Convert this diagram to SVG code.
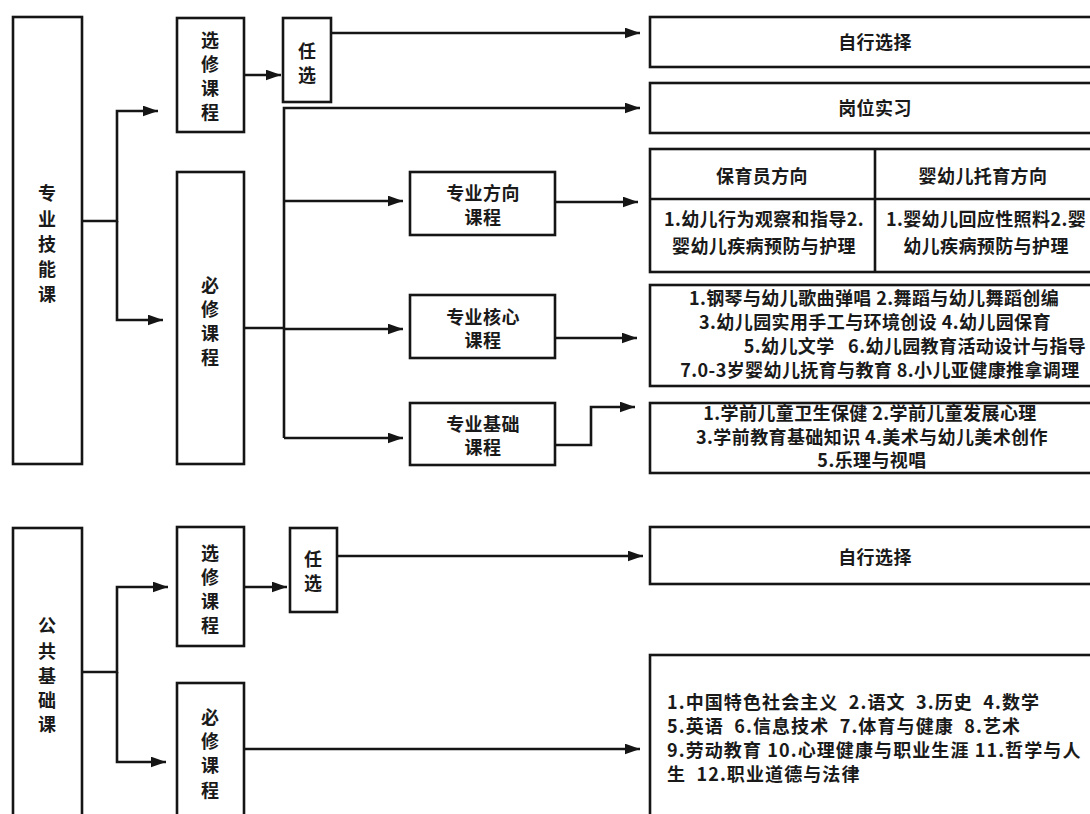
<svg xmlns="http://www.w3.org/2000/svg" width="1090" height="814" viewBox="0 0 1090 814">
<defs>
<marker id="arr" viewBox="0 0 14 10" refX="14" refY="5" markerWidth="15" markerHeight="11" markerUnits="userSpaceOnUse" orient="auto"><path d="M0,0 L14,5 L0,10 z" fill="#151515"/></marker>
<style>
.box{fill:#fff;stroke:#151515;stroke-width:2.6}
.ln{fill:none;stroke:#151515;stroke-width:2.6}
text{font-family:"Noto Sans CJK SC","Noto Sans",sans-serif;font-weight:700;fill:#1a1a1a}
.v{font-size:18px;text-anchor:middle}
.m{font-size:18px;letter-spacing:0.4px;text-anchor:middle}
.b{font-size:18px;letter-spacing:1.1px;white-space:pre}
</style>
</defs>
<rect width="1090" height="814" fill="#fff"/>

<g id="connectors">
<path class="ln" d="M82,221 H117 V111 H158" marker-end="url(#arr)"/>
<path class="ln" d="M117,221 V320 H163" marker-end="url(#arr)"/>
<path class="ln" d="M244,75 H281" marker-end="url(#arr)"/>
<path class="ln" d="M331,33 H640" marker-end="url(#arr)"/>
<path class="ln" d="M284,438 V108 H640" marker-end="url(#arr)"/>
<path class="ln" d="M284,201 H403" marker-end="url(#arr)"/>
<path class="ln" d="M244,328 H284"/>
<path class="ln" d="M284,329 H403" marker-end="url(#arr)"/>
<path class="ln" d="M284,438 H403" marker-end="url(#arr)"/>
<path class="ln" d="M555,202 H638" marker-end="url(#arr)"/>
<path class="ln" d="M555,338 H637" marker-end="url(#arr)"/>
<path class="ln" d="M555,445 H591 V407 H635" marker-end="url(#arr)"/>
<path class="ln" d="M82,672 H117 V587 H168" marker-end="url(#arr)"/>
<path class="ln" d="M117,672 V762 H166" marker-end="url(#arr)"/>
<path class="ln" d="M244,587 H287" marker-end="url(#arr)"/>
<path class="ln" d="M337,556 H643" marker-end="url(#arr)"/>
<path class="ln" d="M244,749 H640" marker-end="url(#arr)"/>
</g>

<g id="zyjnk">
<rect class="box" x="13" y="17" width="69" height="447"/>
<text class="v" x="47" y="200">专</text>
<text class="v" x="47" y="226">业</text>
<text class="v" x="47" y="251">技</text>
<text class="v" x="47" y="276">能</text>
<text class="v" x="47" y="301">课</text>
</g>

<g id="xxkc1">
<rect class="box" x="177" y="18" width="67" height="114"/>
<text class="v" x="210" y="47">选</text>
<text class="v" x="210" y="71">修</text>
<text class="v" x="210" y="95">课</text>
<text class="v" x="210" y="119">程</text>
</g>

<g id="rx1">
<rect class="box" x="283" y="18" width="48" height="84"/>
<text class="v" x="307" y="58">任</text>
<text class="v" x="307" y="82">选</text>
</g>

<g id="bxkc1">
<rect class="box" x="177" y="172" width="67" height="292"/>
<text class="v" x="210" y="292">必</text>
<text class="v" x="210" y="316">修</text>
<text class="v" x="210" y="340">课</text>
<text class="v" x="210" y="364">程</text>
</g>

<g id="fxkc">
<rect class="box" x="410" y="172" width="145" height="63"/>
<text class="m" x="483" y="200">专业方向</text>
<text class="m" x="483" y="224">课程</text>
</g>

<g id="hxkc">
<rect class="box" x="410" y="295" width="145" height="63"/>
<text class="m" x="483" y="323.5">专业核心</text>
<text class="m" x="483" y="347">课程</text>
</g>

<g id="jckc">
<rect class="box" x="410" y="403" width="145" height="62"/>
<text class="m" x="483" y="430.5">专业基础</text>
<text class="m" x="483" y="454">课程</text>
</g>

<g id="zxxz1">
<rect class="box" x="650" y="17" width="446" height="50"/>
<text class="m" x="875" y="49">自行选择</text>
</g>

<g id="gwsx">
<rect class="box" x="650" y="83" width="446" height="50"/>
<text class="m" x="875" y="115">岗位实习</text>
</g>

<g id="fxtable">
<rect class="box" x="650" y="149" width="446" height="123"/>
<path class="ln" d="M875,149 V272 M650,199 H1096"/>
<text class="m" x="762" y="183">保育员方向</text>
<text class="m" x="983" y="183">婴幼儿托育方向</text>
<text class="m" x="764" y="226">1.幼儿行为观察和指导2.</text>
<text class="m" x="764" y="253">婴幼儿疾病预防与护理</text>
<text class="m" x="986" y="226">1.婴幼儿回应性照料2.婴</text>
<text class="m" x="986" y="253">幼儿疾病预防与护理</text>
</g>

<g id="hxbox">
<rect class="box" x="650" y="285" width="446" height="101"/>
<text class="m" x="874" y="305">1.钢琴与幼儿歌曲弹唱 2.舞蹈与幼儿舞蹈创编</text>
<text class="m" x="875" y="329">3.幼儿园实用手工与环境创设 4.幼儿园保育</text>
<text class="m" x="915" y="353" xml:space="preserve">5.幼儿文学   6.幼儿园教育活动设计与指导</text>
<text class="m" x="880" y="377">7.0-3岁婴幼儿抚育与教育 8.小儿亚健康推拿调理</text>
</g>

<g id="jcbox">
<rect class="box" x="650" y="403" width="446" height="70"/>
<text class="m" x="870" y="420">1.学前儿童卫生保健 2.学前儿童发展心理</text>
<text class="m" x="872" y="443.5">3.学前教育基础知识 4.美术与幼儿美术创作</text>
<text class="m" x="872" y="467">5.乐理与视唱</text>
</g>

<g id="ggjck">
<rect class="box" x="13" y="528" width="69" height="300"/>
<text class="v" x="47" y="632">公</text>
<text class="v" x="47" y="658">共</text>
<text class="v" x="47" y="683">基</text>
<text class="v" x="47" y="707">础</text>
<text class="v" x="47" y="731">课</text>
</g>

<g id="xxkc2">
<rect class="box" x="177" y="527" width="67" height="119"/>
<text class="v" x="210" y="560">选</text>
<text class="v" x="210" y="584">修</text>
<text class="v" x="210" y="608">课</text>
<text class="v" x="210" y="632">程</text>
</g>

<g id="rx2">
<rect class="box" x="290" y="528" width="47" height="84"/>
<text class="v" x="313" y="566">任</text>
<text class="v" x="313" y="590">选</text>
</g>

<g id="bxkc2">
<rect class="box" x="177" y="683" width="67" height="145"/>
<text class="v" x="210" y="724">必</text>
<text class="v" x="210" y="748">修</text>
<text class="v" x="210" y="772">课</text>
<text class="v" x="210" y="797">程</text>
</g>

<g id="zxxz2">
<rect class="box" x="650" y="527" width="446" height="57"/>
<text class="m" x="875" y="564">自行选择</text>
</g>

<g id="ggbx">
<rect class="box" x="650" y="655" width="446" height="175"/>
<text class="b" x="667" y="709" xml:space="preserve">1.中国特色社会主义  2.语文  3.历史  4.数学</text>
<text class="b" x="667" y="733" xml:space="preserve">5.英语  6.信息技术  7.体育与健康  8.艺术</text>
<text class="b" x="667" y="757" xml:space="preserve">9.劳动教育 10.心理健康与职业生涯 11.哲学与人</text>
<text class="b" x="667" y="781" xml:space="preserve">生  12.职业道德与法律</text>
</g>
</svg>
